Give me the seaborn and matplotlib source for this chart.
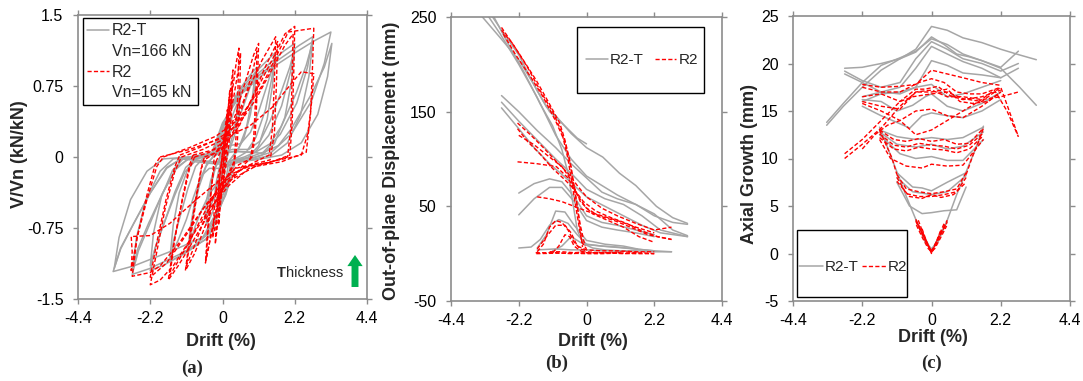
import matplotlib
matplotlib.use("Agg")
import matplotlib.pyplot as plt
import pandas as pd
import seaborn as sns
from matplotlib.lines import Line2D
from matplotlib.patches import Rectangle

sns.set_theme(style="white")
plt.rcParams['font.family'] = ['Liberation Sans', 'DejaVu Sans']

GRAY = '#A6A6A6'
RED = '#FF0000'
DASH = (0, (3.0, 1.6))

# ---------------- data: panel (a) V/Vn vs drift ----------------
X_TICKS = [-4.4, -2.2, 0, 2.2, 4.4]
X_TICK_LABELS = ['-4.4', '-2.2', '0', '2.2', '4.4']
A_Y_TICKS = [-1.5, -0.75, 0, 0.75, 1.5]
A_Y_TICK_LABELS = ['-1.5', '-0.75', '0', '0.75', '1.5']

# R2-T (gray) loops
A_T_L1 = [(-0.05,-0.05),(0.05,0.12),(0.15,0.28),(0.25,0.42),(0.2,0.25),(0.1,0.08),(0.0,-0.06),(-0.1,-0.22),(-0.25,-0.45),(-0.2,-0.28),(-0.1,-0.12),(-0.05,-0.05)]
A_T_L2A = [(-0.08,0.0),(0.0,0.18),(0.12,0.38),(0.25,0.52),(0.38,0.62),(0.5,0.68),(0.45,0.48),(0.35,0.28),(0.22,0.12),(0.1,0.0),(0.0,-0.16),(-0.12,-0.38),(-0.26,-0.55),(-0.4,-0.66),(-0.5,-0.72),(-0.45,-0.5),(-0.35,-0.3),(-0.22,-0.12),(-0.08,0.0)]
A_T_L2B = [(-0.1,-0.05),(0.05,0.15),(0.2,0.33),(0.35,0.48),(0.55,0.65),(0.48,0.42),(0.36,0.22),(0.2,0.06),(0.05,-0.1),(-0.1,-0.28),(-0.28,-0.45),(-0.42,-0.56),(-0.55,-0.66),(-0.48,-0.45),(-0.36,-0.25),(-0.22,-0.1),(-0.1,-0.05)]
A_T_L3A = [(-0.1,0.05),(0.0,0.28),(0.2,0.5),(0.45,0.68),(0.7,0.8),(0.9,0.89),(1.05,0.95),(0.98,0.72),(0.85,0.45),(0.65,0.2),(0.45,0.06),(0.25,-0.02),(0.08,-0.1),(0.0,-0.35),(-0.2,-0.62),(-0.48,-0.8),(-0.8,-0.92),(-1.05,-0.98),(-0.98,-0.75),(-0.85,-0.48),(-0.66,-0.22),(-0.46,-0.06),(-0.28,0.0),(-0.1,0.05)]
A_T_L3B = [(-0.3,0.0),(-0.1,0.08),(0.15,0.22),(0.4,0.35),(0.6,0.5),(0.8,0.7),(1.0,0.9),(0.9,0.6),(0.72,0.3),(0.5,0.1),(0.25,-0.02),(0.0,-0.15),(-0.2,-0.3),(-0.42,-0.4),(-0.62,-0.55),(-0.82,-0.72),(-1.0,-0.92),(-0.9,-0.62),(-0.72,-0.32),(-0.5,-0.1),(-0.3,0.0)]
A_T_L4A = [(-0.16,0.05),(0.0,0.3),(0.27,0.55),(0.64,0.75),(1.02,0.9),(1.36,1.02),(1.6,1.1),(1.5,0.83),(1.31,0.5),(1.02,0.21),(0.72,0.05),(0.48,0.0),(0.19,-0.05),(0.05,-0.36),(-0.29,-0.77),(-0.77,-0.91),(-1.3,-1.05),(-1.6,-1.1),(-1.49,-0.88),(-1.3,-0.64),(-1.06,-0.34),(-0.82,-0.1),(-0.58,-0.01),(-0.16,0.05)]
A_T_L4B = [(-0.5,0.0),(-0.15,0.04),(0.2,0.12),(0.55,0.14),(0.85,0.26),(1.1,0.48),(1.35,0.75),(1.5,0.92),(1.6,1.06),(1.52,0.75),(1.36,0.4),(1.1,0.12),(0.8,0.0),(0.4,-0.06),(0.0,-0.12),(-0.4,-0.12),(-0.65,-0.2),(-0.88,-0.42),(-1.1,-0.66),(-1.35,-0.88),(-1.6,-1.06),(-1.5,-0.72),(-1.32,-0.38),(-1.05,-0.12),(-0.8,-0.02),(-0.5,0.0)]
A_T_L5A = [(-0.22,0.04),(0.0,0.32),(0.37,0.6),(0.88,0.82),(1.41,0.98),(1.87,1.12),(2.2,1.2),(2.07,0.9),(1.8,0.54),(1.41,0.23),(0.99,0.05),(0.66,0.0),(0.26,-0.04),(0.07,-0.4),(-0.4,-0.84),(-1.06,-1.0),(-1.78,-1.14),(-2.2,-1.2),(-2.05,-0.96),(-1.78,-0.7),(-1.45,-0.37),(-1.12,-0.11),(-0.79,-0.01),(-0.22,0.04)]
A_T_L5B = [(-0.7,0.0),(-0.2,0.03),(0.3,0.08),(0.8,0.08),(1.15,0.17),(1.45,0.38),(1.8,0.7),(2.05,0.95),(2.2,1.15),(2.1,0.8),(1.9,0.42),(1.58,0.14),(1.2,0.02),(0.7,-0.04),(0.2,-0.08),(-0.3,-0.07),(-0.85,-0.05),(-1.15,-0.16),(-1.45,-0.4),(-1.8,-0.72),(-2.05,-0.96),(-2.2,-1.15),(-2.1,-0.8),(-1.86,-0.42),(-1.52,-0.14),(-1.2,-0.02),(-0.7,0.0)]
A_T_L6A = [(-0.28,0.04),(0.0,0.34),(0.47,0.64),(1.1,0.86),(1.76,1.04),(2.34,1.18),(2.75,1.27),(2.59,0.95),(2.26,0.57),(1.76,0.24),(1.24,0.05),(0.83,0.0),(0.33,-0.04),(0.08,-0.41),(-0.5,-0.87),(-1.32,-1.03),(-2.23,-1.18),(-2.75,-1.24),(-2.56,-0.99),(-2.23,-0.72),(-1.82,-0.38),(-1.4,-0.11),(-0.99,-0.01),(-0.28,0.04)]
A_T_L6B = [(-0.9,0.0),(-0.25,0.02),(0.35,0.06),(1.0,0.05),(1.45,0.14),(1.8,0.33),(2.25,0.68),(2.55,0.97),(2.75,1.22),(2.63,0.85),(2.38,0.45),(1.98,0.15),(1.5,0.02),(0.85,-0.03),(0.25,-0.06),(-0.35,-0.05),(-1.05,-0.02),(-1.42,-0.13),(-1.82,-0.38),(-2.25,-0.7),(-2.58,-0.97),(-2.75,-1.2),(-2.62,-0.85),(-2.33,-0.45),(-1.9,-0.15),(-1.5,-0.02),(-0.9,0.0)]
A_T_L7A = [(-0.33,0.04),(0.0,0.36),(0.56,0.66),(1.32,0.9),(2.11,1.08),(2.81,1.23),(3.3,1.32),(3.1,0.99),(2.71,0.59),(2.11,0.25),(1.49,0.05),(0.99,0.0),(0.4,-0.04),(0.1,-0.4),(-0.6,-0.85),(-1.6,-1.0),(-2.7,-1.15),(-3.33,-1.21),(-3.1,-0.97),(-2.7,-0.7),(-2.2,-0.38),(-1.7,-0.11),(-1.2,-0.01),(-0.33,0.04)]
A_T_L7B = [(-1.0,0.0),(-0.3,0.02),(0.4,0.06),(1.2,0.04),(1.7,0.12),(2.1,0.3),(2.7,0.66),(3.1,0.95),(3.33,1.2),(3.2,0.85),(2.9,0.45),(2.4,0.15),(1.8,0.02),(1.0,-0.03),(0.3,-0.06),(-0.4,-0.05),(-1.28,-0.02),(-1.7,-0.12),(-2.2,-0.38),(-2.7,-0.7),(-3.1,-0.96),(-3.3,-1.18),(-3.15,-0.85),(-2.8,-0.45),(-2.3,-0.15),(-1.8,-0.02),(-1.0,0.0)]

# R2 (red) loops
A_R_L0A = [(-0.08,-0.2),(0.0,0.05),(0.08,0.3),(0.15,0.5),(0.13,0.3),(0.06,0.05),(-0.02,-0.2),(-0.1,-0.42),(-0.15,-0.55),(-0.12,-0.35),(-0.08,-0.2)]
A_R_L0B = [(0.0,-0.15),(0.08,0.15),(0.16,0.45),(0.22,0.7),(0.2,0.45),(0.12,0.15),(0.04,-0.15),(-0.05,-0.45),(-0.12,-0.72),(-0.08,-0.45),(0.0,-0.15)]
A_R_L1 = [(-0.05,-0.1),(0.05,0.15),(0.15,0.4),(0.25,0.62),(0.3,0.75),(0.27,0.45),(0.2,0.15),(0.1,-0.1),(0.0,-0.3),(-0.1,-0.5),(-0.2,-0.7),(-0.3,-0.85),(-0.25,-0.55),(-0.18,-0.3),(-0.1,-0.15),(-0.05,-0.1)]
A_R_L1B = [(-0.1,-0.25),(0.0,0.0),(0.1,0.3),(0.2,0.6),(0.32,0.92),(0.28,0.6),(0.2,0.3),(0.1,0.0),(0.0,-0.3),(-0.12,-0.62),(-0.22,-0.92),(-0.18,-0.6),(-0.1,-0.25)]
A_R_L2A = [(-0.2,-0.05),(0.0,0.1),(0.15,0.35),(0.3,0.7),(0.42,1.0),(0.5,1.15),(0.47,0.7),(0.42,0.25),(0.35,-0.05),(0.15,-0.2),(-0.1,-0.4),(-0.3,-0.75),(-0.45,-1.0),(-0.52,-1.12),(-0.45,-0.75),(-0.35,-0.35),(-0.25,-0.1),(-0.2,-0.05)]
A_R_L2B = [(-0.25,0.0),(-0.05,0.12),(0.15,0.3),(0.35,0.65),(0.48,0.92),(0.55,1.1),(0.52,0.6),(0.45,0.15),(0.35,-0.08),(0.1,-0.25),(-0.15,-0.5),(-0.35,-0.82),(-0.5,-1.08),(-0.42,-0.7),(-0.33,-0.3),(-0.25,0.0)]
A_R_L3A = [(-0.5,-0.02),(-0.2,0.05),(0.1,0.2),(0.4,0.45),(0.7,0.8),(0.95,1.08),(1.1,1.2),(1.06,0.75),(1.0,0.25),(0.9,0.0),(0.6,-0.1),(0.2,-0.25),(-0.2,-0.45),(-0.55,-0.75),(-0.85,-1.02),(-1.13,-1.2),(-1.0,-0.85),(-0.82,-0.45),(-0.65,-0.12),(-0.5,-0.02)]
A_R_L3B = [(-0.55,0.0),(-0.25,0.04),(0.1,0.12),(0.45,0.35),(0.75,0.7),(0.95,0.95),(1.05,1.12),(1.02,0.7),(0.95,0.2),(0.85,-0.02),(0.5,-0.08),(0.15,-0.2),(-0.25,-0.4),(-0.6,-0.7),(-0.9,-0.98),(-1.1,-1.15),(-0.95,-0.8),(-0.78,-0.4),(-0.62,-0.08),(-0.55,0.0)]
A_R_L4A = [(-0.85,0.0),(-0.4,0.05),(0.0,0.15),(0.4,0.4),(0.8,0.72),(1.2,1.02),(1.62,1.27),(1.58,0.8),(1.52,0.3),(1.42,0.02),(1.0,-0.05),(0.5,-0.15),(0.0,-0.35),(-0.5,-0.65),(-1.0,-0.95),(-1.35,-1.15),(-1.65,-1.3),(-1.5,-0.95),(-1.25,-0.5),(-1.0,-0.12),(-0.85,0.0)]
A_R_L4B = [(-0.9,0.02),(-0.45,0.06),(0.0,0.1),(0.5,0.32),(0.9,0.62),(1.3,0.95),(1.68,1.22),(1.64,0.75),(1.58,0.25),(1.45,-0.03),(0.9,-0.08),(0.4,-0.12),(-0.1,-0.3),(-0.6,-0.62),(-1.1,-0.95),(-1.6,-1.25),(-1.45,-0.85),(-1.2,-0.4),(-1.0,-0.08),(-0.9,0.02)]
A_R_L5A = [(-1.25,0.0),(-0.6,0.08),(0.0,0.18),(0.6,0.42),(1.1,0.75),(1.62,1.1),(1.9,1.3),(2.2,1.38),(2.17,0.9),(2.12,0.35),(2.05,0.02),(1.5,-0.05),(0.8,-0.12),(0.2,-0.3),(-0.4,-0.55),(-1.0,-0.88),(-1.5,-1.15),(-1.9,-1.3),(-2.2,-1.35),(-2.0,-1.0),(-1.75,-0.55),(-1.45,-0.15),(-1.25,0.0)]
A_R_L5B = [(-1.3,0.02),(-0.7,0.1),(-0.1,0.2),(0.5,0.35),(1.0,0.6),(1.5,0.92),(1.9,1.18),(2.15,1.3),(2.12,0.85),(2.08,0.3),(1.98,0.0),(1.4,-0.06),(0.7,-0.1),(0.1,-0.25),(-0.5,-0.5),(-1.1,-0.82),(-1.7,-1.12),(-2.2,-1.27),(-2.0,-0.9),(-1.72,-0.45),(-1.45,-0.1),(-1.3,0.02)]
A_R_L6A = [(-1.8,0.0),(-1.0,0.1),(-0.2,0.22),(0.5,0.4),(1.2,0.75),(1.62,1.05),(2.0,1.32),(2.78,1.36),(2.74,0.95),(2.68,0.45),(2.55,0.05),(1.8,-0.05),(1.0,-0.1),(0.2,-0.25),(-0.6,-0.55),(-1.3,-0.9),(-1.9,-1.15),(-2.2,-1.22),(-2.75,-1.26),(-2.6,-0.85),(-2.3,-0.45),(-2.0,-0.1),(-1.8,0.0)]
A_R_L6B = [(-1.9,0.0),(-1.0,0.08),(0.0,0.2),(0.8,0.32),(1.5,0.52),(2.2,0.82),(2.4,0.9),(2.78,0.88),(2.72,0.6),(2.6,0.25),(2.4,0.02),(1.6,-0.04),(0.8,-0.1),(0.0,-0.22),(-0.8,-0.45),(-1.6,-0.7),(-2.2,-0.83),(-2.78,-0.84),(-2.75,-1.0),(-2.78,-1.2),(-2.6,-0.85),(-2.3,-0.4),(-2.05,-0.08),(-1.9,0.0)]

A_GRAY = [A_T_L1, A_T_L2A, A_T_L2B, A_T_L3A, A_T_L3B, A_T_L4A, A_T_L4B,
          A_T_L5A, A_T_L5B, A_T_L6A, A_T_L6B, A_T_L7A, A_T_L7B]
A_RED = [A_R_L0A, A_R_L0B, A_R_L1, A_R_L1B, A_R_L2A, A_R_L2B, A_R_L3A, A_R_L3B,
         A_R_L4A, A_R_L4B, A_R_L5A, A_R_L5B, A_R_L6A, A_R_L6B]

# ---------------- data: panel (b) out-of-plane displacement ----------------
B_Y_TICKS = [-50, 50, 150, 250]
B_T1 = [(-3.5,258),(-3.38,250),(-2.8,228),(-2.18,204),(-1.7,178),(-1.3,155),(-0.98,145),(-0.5,127),(0.0,112),(0.53,102),(1.07,85),(1.6,72),(2.27,50),(2.8,38),(3.28,32)]
B_T2 = [(-3.3,262),(-2.8,238),(-2.2,210),(-1.6,172),(-1.2,150),(-0.8,138),(-0.3,122),(0.0,116)]
B_T3 = [(-3.42,262),(-2.8,232),(-2.2,200),(-1.6,165),(-1.0,125),(-0.5,100),(0.0,82),(0.5,72),(1.0,62),(1.6,52),(2.2,40),(2.8,33),(3.28,31)]
B_T4 = [(-2.76,167),(-2.2,150),(-1.6,130),(-1.0,112),(-0.5,95),(0.0,80),(0.5,65),(1.0,58),(1.6,52),(2.2,42),(2.8,25),(3.28,19)]
B_T5 = [(-2.76,160),(-2.2,140),(-1.6,120),(-1.0,100),(-0.5,85),(0.0,68),(0.6,58),(1.2,52),(1.8,40),(2.4,25),(3.28,18)]
B_T6 = [(-2.76,154),(-2.2,132),(-1.7,112),(-1.2,95),(-0.6,78),(0.0,60),(0.6,50),(1.2,40),(1.8,30),(2.4,22),(3.28,18)]
B_T7 = [(-2.2,64),(-1.7,74),(-1.2,79),(-0.8,76),(-0.4,60),(0.0,40),(0.5,33),(1.0,30),(1.6,25),(2.2,20)]
B_T8 = [(-2.2,41),(-1.7,58),(-1.2,70),(-0.8,70),(-0.4,55),(0.0,35),(0.5,28),(1.0,25),(1.6,22),(2.2,18)]
B_T9 = [(-2.2,6),(-1.8,7),(-1.5,15),(-1.2,30),(-0.9,36),(-0.6,32),(-0.3,20),(0.0,10),(0.5,8),(1.0,7),(1.6,5),(2.2,3),(2.76,2)]
B_T10 = [(-1.6,6),(-1.3,20),(-1.0,45),(-0.7,44),(-0.4,30),(0.0,14),(0.6,10),(1.2,8),(1.65,5)]
B_T11 = [(-1.6,4),(-1.0,5),(-0.5,4),(0.0,4),(0.5,3),(1.0,3),(1.6,3),(2.2,2),(2.76,2)]
B_T12 = [(-1.1,3),(-0.8,8),(-0.5,18),(-0.2,12),(0.2,6),(0.6,4),(1.1,3)]
B_T13 = [(-3.2,262),(-2.6,225),(-2.0,190),(-1.5,158),(-1.1,135),(-0.8,110),(-0.6,85),(-0.45,55),(-0.3,25),(-0.1,10),(0.5,8),(1.2,6),(2.2,3)]

B_R1 = [(-2.76,239),(-2.2,212),(-1.63,183),(-1.2,158),(-0.87,138),(-0.7,120),(-0.55,99),(-0.45,78),(-0.33,57),(-0.2,25),(-0.13,7)]
B_R2 = [(-2.76,236),(-2.4,222),(-1.9,196),(-1.5,172),(-1.1,150),(-0.8,128),(-0.6,100),(-0.45,70),(-0.3,40),(-0.15,12),(0.0,5)]
B_R3 = [(-2.7,232),(-2.3,210),(-1.8,186),(-1.4,165),(-1.0,140),(-0.7,118),(-0.5,92),(-0.35,60),(-0.2,30),(-0.05,8)]
B_R4 = [(-2.24,138),(-1.8,125),(-1.4,112),(-1.0,98),(-0.6,85),(-0.3,72),(0.0,60),(0.5,48),(1.0,40),(1.6,32),(2.2,25),(2.76,28)]
B_R5 = [(-2.24,132),(-1.9,118),(-1.5,105),(-1.1,90),(-0.7,78),(-0.4,68),(-0.1,55),(0.3,45),(0.8,38),(1.3,32),(1.8,24),(2.3,18),(2.76,15)]
B_R6 = [(-2.24,97),(-1.6,95),(-0.98,92),(-0.6,80),(-0.3,62),(0.0,48),(0.4,40),(0.9,35),(1.5,27),(2.0,20),(2.76,15)]
B_R7 = [(-2.2,125),(-1.7,115),(-1.2,102),(-0.8,92),(-0.5,78),(-0.2,55),(0.2,42),(0.7,35),(1.2,28),(1.7,18),(2.2,12)]
B_R8 = [(-1.6,2),(-1.4,10),(-1.2,28),(-1.0,35),(-0.8,33),(-0.6,25),(-0.4,12),(-0.2,5),(0.0,3)]
B_R9 = [(-1.6,5),(-1.3,18),(-1.0,30),(-0.7,30),(-0.5,22),(-0.3,8),(0.0,4),(0.5,3),(1.0,3),(1.6,2),(2.2,2)]
B_R10 = [(-1.1,1),(-0.9,8),(-0.7,20),(-0.55,18),(-0.4,8),(-0.2,3),(0.0,1),(0.5,1),(1.1,1)]
B_R11 = [(-1.63,0),(-1.0,0.5),(-0.5,0.5),(0.0,0),(0.5,0),(1.0,0.5),(1.6,0),(2.2,0)]
B_R12 = [(-1.65,1),(-1.0,1),(-0.5,0),(0.0,1),(0.6,1),(1.2,0),(1.8,1),(2.2,0)]
B_R13 = [(-1.2,2),(-0.8,2),(-0.4,1),(0.0,2),(0.4,1),(0.8,1),(1.2,2),(1.65,1)]
B_R14 = [(-1.6,60),(-1.2,58),(-0.8,55),(-0.4,50),(0.0,45),(0.5,40),(1.0,35),(1.6,28),(2.2,22)]

B_GRAY = [B_T1, B_T2, B_T3, B_T4, B_T5, B_T6, B_T7, B_T8, B_T9, B_T10, B_T11, B_T12, B_T13]
B_RED = [B_R1, B_R2, B_R3, B_R4, B_R5, B_R6, B_R7, B_R8, B_R9, B_R10, B_R11, B_R12, B_R13, B_R14]

# ---------------- data: panel (c) axial growth ----------------
C_Y_TICKS = [-5, 0, 5, 10, 15, 20, 25]
C_T1 = [(-3.33,13.5),(-2.8,15.5),(-2.2,17.5),(-1.6,19.3),(-1.0,20.5),(-0.5,21.5),(0.0,23.9),(0.5,23.5),(1.0,22.7),(1.6,22.2),(2.2,21.5),(2.8,20.9),(3.33,20.4)]
C_T2 = [(-3.33,13.8),(-2.8,15.8),(-2.2,18.0),(-1.6,19.8),(-1.0,20.6),(-0.5,21.3),(0.0,22.6),(0.5,22.0),(1.0,21.0),(1.6,20.3),(2.2,19.5),(2.8,17.5),(3.33,15.6)]
C_T3 = [(-2.76,19.5),(-2.2,19.6),(-1.6,20.0),(-1.0,20.5),(-0.5,21.2),(0.0,22.8),(0.4,22.0),(0.8,21.0),(1.2,20.7),(1.6,20.3),(2.2,19.6),(2.76,21.3)]
C_T4 = [(-2.76,19.2),(-2.2,18.2),(-1.6,17.5),(-1.0,18.0),(-0.5,20.5),(0.0,22.3),(0.5,21.5),(1.0,20.5),(1.6,20.0),(2.2,19.2),(2.76,20.0)]
C_T5 = [(-2.76,18.9),(-2.2,18.0),(-1.6,17.0),(-1.0,17.5),(-0.5,19.5),(0.0,21.8),(0.5,21.0),(1.0,20.2),(1.6,19.5),(2.2,18.5),(2.76,19.5)]
C_T6 = [(-2.2,16.5),(-1.6,17.0),(-1.0,16.8),(-0.5,17.5),(0.0,20.3),(0.5,19.8),(1.0,19.0),(1.6,18.8),(2.2,18.5)]
C_T7 = [(-2.2,16.0),(-1.6,16.8),(-1.0,17.0),(-0.5,17.5),(0.0,17.8),(0.5,16.5),(1.0,16.8),(1.6,17.5),(2.2,18.2)]
C_T8 = [(-2.2,16.2),(-1.6,16.0),(-1.1,15.0),(-0.6,15.6),(-0.2,16.5),(0.0,16.8),(0.5,15.5),(1.0,15.0),(1.6,15.8),(2.2,17.0)]
C_T9 = [(-2.2,15.5),(-1.6,14.5),(-1.1,13.8),(-0.69,13.2),(-0.3,14.5),(0.0,14.8),(0.5,14.5),(1.0,14.3),(1.6,15.0),(2.2,16.2)]
C_T10 = [(-1.65,13.0),(-1.1,12.3),(-0.5,12.0),(0.0,12.2),(0.5,12.0),(1.0,12.2),(1.65,13.3)]
C_T11 = [(-1.65,12.8),(-1.1,11.5),(-0.5,11.2),(0.0,11.5),(0.5,11.0),(1.0,11.3),(1.65,12.8)]
C_T12 = [(-1.65,12.5),(-1.0,10.5),(-0.5,10.0),(0.0,10.2),(0.5,9.8),(1.0,9.8),(1.65,12.0)]
C_T13 = [(-1.1,8.5),(-0.6,7.0),(-0.3,6.9),(0.0,6.6),(0.5,7.5),(1.1,8.5)]
C_T14 = [(-1.1,8.0),(-0.6,6.5),(0.0,6.2),(0.5,6.5),(1.1,8.2)]
C_T15 = [(-1.1,7.5),(-0.7,5.0),(-0.3,4.2),(0.0,4.3),(0.4,4.5),(0.8,4.6),(1.1,7.0)]
C_T16 = [(-0.5,3.5),(0.0,0.3),(0.5,3.4)]
C_T17 = [(-1.65,13.3),(-1.4,11.2),(-1.1,8.6),(-0.8,6.0),(-0.5,3.6),(-0.2,1.2),(0.0,0.5)]
C_T18 = [(0.0,0.5),(0.2,1.2),(0.5,3.5),(0.8,6.2),(1.1,8.6),(1.4,11.0),(1.65,13.4)]

C_R1 = [(-2.2,17.8),(-1.6,17.5),(-1.0,17.6),(-0.5,17.8),(0.0,19.3),(0.5,18.9),(1.0,18.5),(1.6,18.0),(2.2,17.7)]
C_R2 = [(-2.2,17.5),(-1.6,17.0),(-1.0,17.0),(-0.4,18.0),(0.0,18.4),(0.4,18.0),(0.8,17.0),(1.2,16.8),(1.6,16.8),(2.2,17.5)]
C_R3 = [(-2.2,16.5),(-1.6,16.8),(-1.0,16.0),(-0.5,17.3),(-0.2,17.3),(0.2,17.6),(0.6,16.6),(1.0,16.2),(1.6,16.5),(2.2,17.2)]
C_R4 = [(-2.2,16.0),(-1.6,15.5),(-1.0,15.2),(-0.5,17.0),(0.0,17.0),(0.5,17.3),(0.9,16.0),(1.3,15.8),(1.8,16.0),(2.2,17.0)]
C_R5 = [(-2.2,15.8),(-1.6,15.0),(-1.0,14.0),(-0.5,15.0),(0.0,15.2),(0.5,14.5),(1.0,14.3),(1.6,15.5),(2.2,17.0)]
C_R6 = [(-2.76,10.0),(-2.2,11.5),(-1.6,13.2),(-1.0,15.5),(-0.5,17.0),(0.0,17.2),(0.5,16.5),(1.0,16.5),(1.6,16.2),(2.2,16.5),(2.76,17.0)]
C_R7 = [(-2.76,10.5),(-2.2,12.0),(-1.6,14.0),(-1.0,16.0),(-0.6,16.5),(0.0,16.8),(0.5,17.0),(1.0,16.3),(1.6,16.0),(2.2,17.5),(2.76,12.3)]
C_R8 = [(-2.2,11.0),(-1.8,12.5),(-1.4,13.5),(-1.0,14.0),(-0.5,12.5),(0.0,13.0),(0.5,14.0),(1.0,15.0),(1.5,16.0),(2.0,17.2),(2.4,15.0),(2.76,12.3)]
C_R9 = [(-1.65,13.0),(-1.2,12.0),(-0.8,11.8),(-0.4,12.1),(0.0,11.8),(0.4,12.0),(0.8,11.5),(1.2,11.6),(1.65,13.2)]
C_R10 = [(-1.65,12.6),(-1.2,11.4),(-0.8,11.2),(-0.4,11.6),(0.0,11.4),(0.4,11.3),(0.8,11.0),(1.2,11.4),(1.65,12.7)]
C_R11 = [(-1.65,12.2),(-1.2,11.0),(-0.8,10.8),(-0.4,11.2),(0.0,11.0),(0.4,10.9),(0.8,10.6),(1.2,11.0),(1.65,12.4)]
C_R12 = [(-1.65,12.0),(-1.3,10.0),(-0.8,9.2),(-0.3,9.0),(0.0,9.4),(0.5,9.2),(1.0,9.3),(1.65,12.0)]
C_R13 = [(-1.1,8.3),(-0.8,6.8),(-0.4,6.5),(0.0,6.3),(0.4,6.5),(0.8,6.8),(1.1,8.5)]
C_R14 = [(-1.1,8.0),(-0.8,6.3),(-0.4,6.0),(0.0,6.0),(0.4,6.2),(0.8,6.5),(1.1,8.0)]
C_R15 = [(-1.1,7.6),(-0.7,6.0),(-0.3,5.8),(0.0,6.2),(0.3,5.9),(0.7,6.2),(1.1,7.5)]
C_R16 = [(-0.5,3.6),(-0.3,2.2),(-0.1,0.8),(0.0,0.1),(0.1,0.8),(0.3,2.2),(0.5,3.5)]
C_R17 = [(-0.45,3.2),(-0.2,1.5),(0.0,0.2),(0.2,1.5),(0.45,3.0)]
C_R18 = [(-0.5,3.4),(-0.35,2.4),(-0.15,1.0),(0.0,0.3),(0.15,1.0),(0.35,2.4),(0.5,3.3)]
C_R19 = [(-0.42,3.5),(-0.25,2.0),(-0.08,0.6),(0.0,0.0),(0.08,0.6),(0.25,2.0),(0.42,3.3)]
C_R20 = [(-0.3,2.6),(-0.15,1.2),(0.0,0.1),(0.15,1.2),(0.3,2.5)]
C_R21 = [(-0.48,3.0),(-0.28,1.6),(-0.1,0.5),(0.0,0.2),(0.1,0.5),(0.28,1.6),(0.48,2.9)]
C_R22 = [(-1.65,13.0),(-1.45,11.5),(-1.25,10.0),(-1.1,8.3)]
C_R23 = [(1.1,8.3),(1.3,10.2),(1.5,11.8),(1.65,13.2)]

C_GRAY = [C_T1, C_T2, C_T3, C_T4, C_T5, C_T6, C_T7, C_T8, C_T9, C_T10,
          C_T11, C_T12, C_T13, C_T14, C_T15, C_T16, C_T17, C_T18]
C_RED = [C_R1, C_R2, C_R3, C_R4, C_R5, C_R6, C_R7, C_R8, C_R9, C_R10,
         C_R11, C_R12, C_R13, C_R14, C_R15, C_R16, C_R17, C_R18, C_R19,
         C_R20, C_R21, C_R22, C_R23]


def frame(curves):
    rows = []
    for i, c in enumerate(curves):
        for j, (x, y) in enumerate(c):
            rows.append((i, j, x, y))
    return pd.DataFrame(rows, columns=['curve', 'order', 'drift', 'value'])


W, H = 1083, 381
fig = plt.figure(figsize=(W / 100, H / 100), dpi=100)


def px_axes(x0, x1, ytop, ybot):
    return fig.add_axes([x0 / W, 1 - ybot / H, (x1 - x0) / W, (ybot - ytop) / H])


ax_a = px_axes(78, 367, 15, 299)
ax_b = px_axes(451, 722, 17, 301)
ax_c = px_axes(793, 1070, 16, 301)

for ax, g, r in [(ax_a, A_GRAY, A_RED), (ax_b, B_GRAY, B_RED), (ax_c, C_GRAY, C_RED)]:
    sns.lineplot(data=frame(g), x='drift', y='value', units='curve', estimator=None,
                 sort=False, color=GRAY, lw=1.1, ax=ax, legend=False)
    sns.lineplot(data=frame(r), x='drift', y='value', units='curve', estimator=None,
                 sort=False, color=RED, lw=1.0, linestyle=DASH, ax=ax, legend=False)

ax_a.set_ylim(-1.5, 1.5)
ax_a.set_yticks(A_Y_TICKS)
ax_a.set_yticklabels(A_Y_TICK_LABELS)
ax_b.set_ylim(-50, 250)
ax_b.set_yticks(B_Y_TICKS)
ax_b.set_yticklabels([str(v) for v in B_Y_TICKS])
ax_c.set_ylim(-5, 25)
ax_c.set_yticks(C_Y_TICKS)
ax_c.set_yticklabels([str(v) for v in C_Y_TICKS])

for ax in (ax_a, ax_b, ax_c):
    ax.set_xlim(-4.4, 4.4)
    ax.set_xticks(X_TICKS)
    ax.set_xticklabels(X_TICK_LABELS)
    ax.set_xlabel('')
    ax.set_ylabel('')
    for s in ax.spines.values():
        s.set_visible(True)
        s.set_color('#8C8C8C')
        s.set_linewidth(1.2)
    ax.tick_params(axis='both', which='major', direction='out', length=3.5, width=1.0,
                   color='#8C8C8C', labelsize=11.5, labelcolor='black',
                   top=True, right=True, bottom=True, left=True)
    ax.tick_params(axis='y', pad=7)
    ax.tick_params(axis='x', pad=5)

# legends with black boxes
def box(ax, x0, y0, w, h):
    ax.add_patch(Rectangle((x0, y0), w, h, transform=ax.transAxes, facecolor='white',
                           edgecolor='black', lw=1.0, zorder=5))

gray_h = Line2D([], [], color=GRAY, lw=1.1)
red_h = Line2D([], [], color=RED, lw=1.0, linestyle=DASH)
none_h = Line2D([], [], color='none', lw=0)

box(ax_a, 0.017, 0.683, 0.398, 0.306)
lg = ax_a.legend([gray_h, none_h, red_h, none_h], ['R2-T', 'Vn=166 kN', 'R2', 'Vn=165 kN'],
                 loc='center', bbox_to_anchor=(0.211, 0.835), frameon=False, fontsize=11.5,
                 handlelength=1.4, handletextpad=0.15, labelspacing=0.36, borderpad=0.2)
lg.set_zorder(6)

box(ax_b, 0.465, 0.732, 0.469, 0.232)
lg = ax_b.legend([gray_h, red_h], ['R2-T', 'R2'], ncol=2, loc='center',
                 bbox_to_anchor=(0.705, 0.849), frameon=False, fontsize=11,
                 handlelength=1.4, handletextpad=0.15, columnspacing=0.7, borderpad=0.2)
lg.set_zorder(6)

box(ax_c, 0.0144, 0.014, 0.397, 0.235)
lg = ax_c.legend([gray_h, red_h], ['R2-T', 'R2'], ncol=2, loc='center',
                 bbox_to_anchor=(0.217, 0.119), frameon=False, fontsize=11,
                 handlelength=1.6, handletextpad=0.1, columnspacing=0.2, borderpad=0.2)
lg.set_zorder(6)

# labels
def ftext(x, y, s, **kw):
    return fig.text(x / W, 1 - y / H, s, ha='center', va='center', **kw)

ftext(221, 342, 'Drift (%)', fontsize=13, fontweight='bold')
ftext(593, 342, 'Drift (%)', fontsize=13, fontweight='bold')
ftext(933, 338, 'Drift (%)', fontsize=13, fontweight='bold')
ftext(20, 154, 'V/Vn (kN/kN)', fontsize=13, fontweight='bold', rotation=90)
ftext(392, 161, 'Out-of-plane Displacement (mm)', fontsize=13, fontweight='bold', rotation=90)
ftext(750, 164, 'Axial Growth (mm)', fontsize=13, fontweight='bold', rotation=90)
for x, y, s in [(192, 368, '(a)'), (557, 363, '(b)'), (932, 363, '(c)')]:
    ftext(x, y, s, fontsize=13.5, fontweight='bold', family=['Liberation Serif', 'DejaVu Serif'])

# Thickness note with green arrow
t = fig.text(277 / W, 1 - 273 / H, 'T', ha='left', va='center', fontsize=10.5, fontweight='bold')
ax_a.annotate('hickness', xy=(1, 0), xycoords=t, ha='left', va='bottom', fontsize=10.5)
ax_a.annotate('', xy=(355, H - 255), xytext=(355, H - 287), xycoords='figure pixels',
              textcoords='figure pixels',
              arrowprops=dict(arrowstyle='simple,head_length=0.8,head_width=1.1,tail_width=0.5',
                              color='#00B050', lw=0, mutation_scale=10, shrinkA=0, shrinkB=0))

fig.savefig('out.png', dpi=100)
